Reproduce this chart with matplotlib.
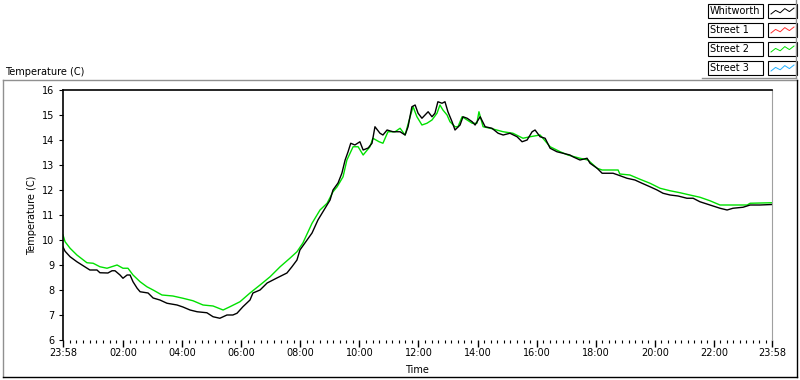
import numpy as np
import matplotlib
matplotlib.use('Agg')
import matplotlib.pyplot as plt
from matplotlib.lines import Line2D
from matplotlib.patches import Rectangle

# ---------------- data (hours after 23:58, temperature in C) ----------------
whit_hours = [0.00, 0.07, 0.24, 0.47, 0.74, 0.91, 1.15, 1.25, 1.52, 1.66, 1.76, 1.93, 2.03, 2.17,
              2.27, 2.37, 2.51, 2.61, 2.88, 3.05, 3.28, 3.52, 3.86, 4.06, 4.30, 4.54, 4.87, 5.08,
              5.31, 5.55, 5.75, 5.89, 6.09, 6.33, 6.43, 6.67, 6.91, 7.24, 7.58, 7.75, 7.92, 8.02,
              8.26, 8.43, 8.63, 8.80, 9.04, 9.14, 9.31, 9.44, 9.55, 9.65, 9.74, 9.88, 10.05, 10.16,
              10.33, 10.46, 10.56, 10.73, 10.83, 10.97, 11.17, 11.41, 11.58, 11.68, 11.81, 11.92,
              12.02, 12.15, 12.36, 12.49, 12.59, 12.69, 12.83, 12.93, 13.03, 13.17, 13.27, 13.44,
              13.54, 13.68, 13.85, 13.95, 14.12, 14.29, 14.52, 14.73, 14.90, 15.13, 15.37, 15.54,
              15.71, 15.88, 15.98, 16.15, 16.32, 16.49, 16.72, 16.93, 17.16, 17.26, 17.50, 17.74,
              17.84, 18.08, 18.25, 18.45, 18.62, 18.79, 19.09, 19.36, 19.60, 19.87, 20.11, 20.31,
              20.55, 20.82, 21.12, 21.33, 21.56, 21.90, 22.24, 22.48, 22.68, 23.02, 23.26, 23.59,
              24.00]
whit_temp = [9.72, 9.55, 9.33, 9.13, 8.93, 8.80, 8.80, 8.69, 8.68, 8.77, 8.77, 8.60, 8.47, 8.60,
             8.60, 8.33, 8.07, 7.93, 7.88, 7.68, 7.60, 7.47, 7.40, 7.32, 7.20, 7.13, 7.09, 6.93,
             6.87, 7.00, 7.00, 7.07, 7.33, 7.60, 7.88, 8.00, 8.28, 8.48, 8.68, 8.93, 9.20, 9.60,
             10.00, 10.28, 10.80, 11.13, 11.60, 12.00, 12.28, 12.67, 13.20, 13.53, 13.87, 13.80, 13.93, 13.60,
             13.68, 13.87, 14.53, 14.27, 14.20, 14.40, 14.33, 14.33, 14.20, 14.53, 15.33, 15.40,
             15.07, 14.87, 15.13, 14.93, 15.07, 15.53, 15.47, 15.53, 15.13, 14.73, 14.40, 14.60,
             14.93, 14.87, 14.73, 14.60, 14.93, 14.53, 14.47, 14.27, 14.20, 14.27, 14.13, 13.93,
             14.00, 14.33, 14.40, 14.13, 14.07, 13.67, 13.53, 13.47, 13.40, 13.33, 13.20, 13.27,
             13.07, 12.87, 12.67, 12.67, 12.67, 12.60, 12.47, 12.40, 12.27, 12.13, 12.00, 11.87,
             11.80, 11.76, 11.67, 11.67, 11.53, 11.40, 11.27, 11.20, 11.27, 11.31, 11.40, 11.40,
             11.42]

st2_hours = [0.00, 0.07, 0.24, 0.47, 0.81, 1.02, 1.25, 1.49, 1.83, 2.03, 2.20, 2.37, 2.61, 2.84,
             3.05, 3.35, 3.72, 4.06, 4.40, 4.74, 5.08, 5.42, 5.65, 5.99, 6.33, 6.67, 7.01, 7.35,
             7.68, 7.92, 8.12, 8.43, 8.70, 8.94, 9.14, 9.28, 9.48, 9.61, 9.82, 9.99, 10.16, 10.39,
             10.49, 10.70, 10.83, 11.00, 11.24, 11.41, 11.58, 11.75, 11.85, 11.98, 12.15, 12.32,
             12.49, 12.66, 12.76, 12.86, 13.00, 13.10, 13.27, 13.37, 13.51, 13.68, 13.85, 14.01,
             14.08, 14.22, 14.46, 14.90, 15.23, 15.57, 15.81, 16.15, 16.49, 16.83, 17.09, 17.50,
             17.77, 18.08, 18.25, 18.52, 18.79, 18.85, 19.19, 19.53, 19.87, 20.21, 20.55, 20.89,
             21.22, 21.56, 21.90, 22.24, 22.58, 23.16, 23.26, 24.00]
st2_temp = [10.20, 9.93, 9.67, 9.40, 9.09, 9.07, 8.93, 8.87, 9.00, 8.87, 8.87, 8.60, 8.33, 8.13,
            8.00, 7.80, 7.76, 7.67, 7.57, 7.40, 7.36, 7.20, 7.33, 7.53, 7.88, 8.20, 8.53, 8.93,
            9.27, 9.53, 9.88, 10.67, 11.20, 11.47, 11.93, 12.13, 12.53, 13.20, 13.73, 13.73, 13.40, 13.73,
            14.07, 13.93, 13.87, 14.33, 14.33, 14.47, 14.20, 14.93, 15.33, 14.93, 14.60, 14.67,
            14.80, 15.07, 15.40, 15.20, 15.00, 14.73, 14.53, 14.53, 14.93, 14.80, 14.67, 14.67,
            15.13, 14.53, 14.47, 14.33, 14.27, 14.07, 14.13, 14.20, 13.73, 13.53, 13.40, 13.27,
            13.20, 12.87, 12.80, 12.80, 12.80, 12.64, 12.60, 12.43, 12.27, 12.07, 11.97, 11.89,
            11.80, 11.71, 11.57, 11.40, 11.40, 11.40, 11.47, 11.49]

tick_labels = ['23:58', '02:00', '04:00', '06:00', '08:00', '10:00', '12:00',
               '14:00', '16:00', '18:00', '20:00', '22:00', '23:58']
legend_names = ['Whitworth', 'Street 1', 'Street 2', 'Street 3']
legend_colors = ['black', '#ff3030', '#00e000', '#20b0ff']


def tick_pos(lbl, i):
    # hours after the 23:58 start
    if i == 0:
        return 0.0
    if i == len(tick_labels) - 1:
        return 24.0
    h, m = map(int, lbl.split(':'))
    return (h * 60 + m + 2) / 60.0


W, H = 800, 380


def fx(x):
    return x / W


def fy(y):
    return 1 - y / H


plt.rcParams['font.family'] = ['DejaVu Sans']
fs = 7

fig = plt.figure(figsize=(8, 3.8), dpi=100)
fig.patch.set_facecolor('white')

ax = fig.add_axes([fx(63), fy(340), fx(772) - fx(63), fy(90) - fy(340)])
ax.plot(st2_hours, st2_temp, color=legend_colors[2], lw=1.0)
ax.plot(whit_hours, whit_temp, color='black', lw=1.0)

ax.set_xlim(0, 24)
ax.set_ylim(6, 16)
xt = [tick_pos(l, i) for i, l in enumerate(tick_labels)]
ax.set_xticks(xt)
ax.set_xticklabels(tick_labels, fontsize=fs)
minor = []
for a, b in zip(xt[:-1], xt[1:]):
    minor += list(np.linspace(a, b, 10)[1:-1])
ax.set_xticks(minor, minor=True)
ax.set_yticks(range(6, 17))
ax.tick_params(axis='y', length=3, width=0.8, pad=3, labelsize=fs)
ax.tick_params(axis='x', which='major', length=5, width=1.0, pad=1, direction='out', color='black')
ax.tick_params(axis='x', which='minor', length=2.5, width=0.8, direction='out', color='black')

ax.spines['bottom'].set_visible(False)
ax.spines['right'].set_color('#a0a0a0')
ax.spines['left'].set_linewidth(1.2)
ax.spines['top'].set_linewidth(1.2)

fig.text(fx(32), fy(215), 'Temperature (C)', rotation=90, ha='center', va='center', fontsize=fs)
fig.text(fx(417), fy(370), 'Time', ha='center', va='center', fontsize=fs)
fig.text(fx(5), fy(72), 'Temperature (C)', ha='left', va='center', fontsize=fs)

# outer sunken frame
fig.add_artist(Line2D([fx(3), fx(797)], [fy(80), fy(80)], color='#909090', lw=1))
fig.add_artist(Line2D([fx(3), fx(3)], [fy(80), fy(377)], color='#909090', lw=1))
fig.add_artist(Line2D([fx(3), fx(797)], [fy(377), fy(377)], color='black', lw=1))
fig.add_artist(Line2D([fx(797), fx(797)], [fy(80), fy(377)], color='black', lw=1))

# legend boxes
fig.add_artist(Line2D([fx(796), fx(796)], [fy(0), fy(78)], color='#909090', lw=1))
fig.add_artist(Line2D([fx(702), fx(796)], [fy(78), fy(78)], color='#909090', lw=1))
zig = np.array([0, 0.6, 0.2, 0.9, 0.4, 1.0])
for i, (name, col) in enumerate(zip(legend_names, legend_colors)):
    top = 4 + i * 19
    fig.add_artist(Rectangle((fx(708), fy(top + 14)), fx(763) - fx(708), fy(top) - fy(top + 14),
                             fill=False, ec='black', lw=0.8))
    fig.add_artist(Rectangle((fx(768), fy(top + 14)), fx(797) - fx(768), fy(top) - fy(top + 14),
                             fill=False, ec='black', lw=0.8))
    fig.text(fx(710), fy(top + 7), name, ha='left', va='center', fontsize=fs)
    sx = np.linspace(771, 794, len(zig))
    sy = top + 10 - zig * 6
    fig.add_artist(Line2D(sx / W, 1 - sy / H, color=col, lw=0.7))

plt.savefig('out.png', dpi=100)
